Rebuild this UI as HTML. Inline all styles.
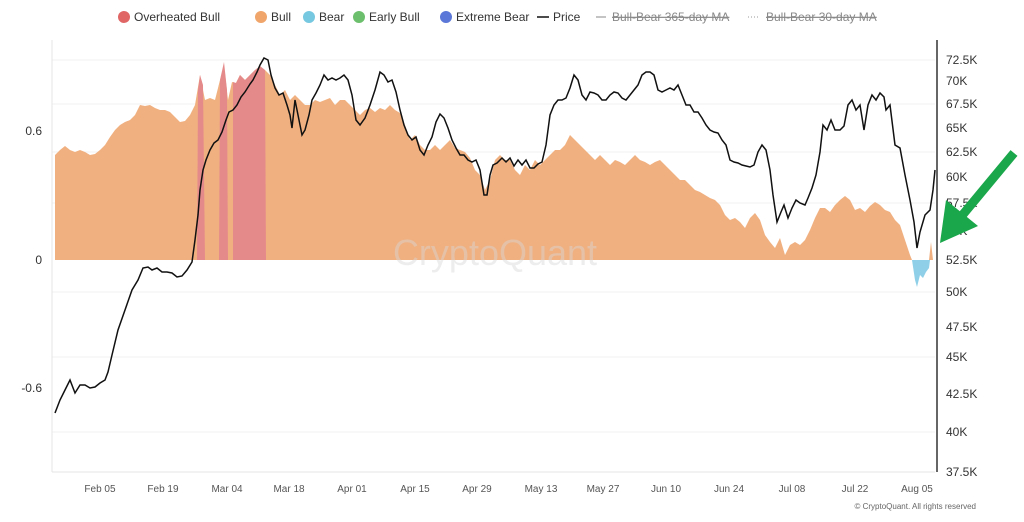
<!DOCTYPE html>
<html><head><meta charset="utf-8"><style>
body{margin:0;background:#fff;width:1024px;height:517px;overflow:hidden;font-family:"Liberation Sans",sans-serif}
</style></head><body>
<svg width="1024" height="517" xmlns="http://www.w3.org/2000/svg" font-family="Liberation Sans, sans-serif">
<g font-size="12" fill="#333">
<circle cx="124" cy="17" r="6" fill="#e06666"/><text x="134" y="21">Overheated Bull</text>
<circle cx="261" cy="17" r="6" fill="#f0a56a"/><text x="271" y="21">Bull</text>
<circle cx="309" cy="17" r="6" fill="#76c7e0"/><text x="319" y="21">Bear</text>
<circle cx="359" cy="17" r="6" fill="#6cbf6c"/><text x="369" y="21">Early Bull</text>
<circle cx="446" cy="17" r="6" fill="#5b78d8"/><text x="456" y="21">Extreme Bear</text>
<line x1="537" y1="17" x2="549" y2="17" stroke="#111" stroke-width="1.5"/><text x="553" y="21">Price</text>
<line x1="596" y1="17" x2="606" y2="17" stroke="#888" stroke-width="1"/><text x="612" y="21" fill="#888" text-decoration="line-through">Bull-Bear 365-day MA</text>
<line x1="748" y1="17" x2="760" y2="17" stroke="#999" stroke-dasharray="1,2"/><text x="766" y="21" fill="#888" text-decoration="line-through">Bull-Bear 30-day MA</text>
</g>
<g stroke="#f0f0f0" stroke-width="1">
<line x1="52" y1="60" x2="935" y2="60"/><line x1="52" y1="104" x2="935" y2="104"/><line x1="52" y1="152" x2="935" y2="152"/><line x1="52" y1="203" x2="935" y2="203"/><line x1="52" y1="292" x2="935" y2="292"/><line x1="52" y1="357" x2="935" y2="357"/><line x1="52" y1="432" x2="935" y2="432"/>
</g>
<line x1="52" y1="40" x2="52" y2="472" stroke="#e4e4e4"/>
<line x1="52" y1="472" x2="935" y2="472" stroke="#e4e4e4"/>
<line x1="937" y1="40" x2="937" y2="472" stroke="#333" stroke-width="1.5"/>
<polygon fill="#f0b080" points="55,260 55,155 60,150 65,146 70,150 75,152 80,150 85,152 90,155 95,154 100,150 105,145 110,137 115,130 120,125 125,122 130,120 135,115 140,105 145,106 150,105 155,108 160,110 165,110 170,112 175,117 180,122 185,121 190,115 195,105 200,75 205,100 210,98 215,100 220,80 224,65 228,100 232,82 236,83 240,75 245,80 250,75 255,70 260,68 265,70 270,75 275,85 280,95 285,90 290,100 295,95 300,100 305,105 310,105 315,100 320,102 325,100 330,98 335,105 340,100 345,100 350,105 355,110 360,115 365,110 370,108 375,112 380,108 385,110 390,105 395,110 400,113 405,125 410,140 415,135 420,145 425,150 430,150 435,145 440,150 445,145 450,140 455,148 460,150 465,152 470,158 475,170 480,175 485,190 490,180 495,160 500,155 505,160 510,160 515,170 520,175 525,165 530,170 535,160 540,165 545,160 550,155 555,150 560,150 565,145 570,135 575,140 580,145 585,150 590,155 595,160 600,155 605,160 610,165 615,160 620,162 625,165 630,160 635,155 640,160 645,162 650,165 655,162 660,160 665,165 670,170 675,175 680,180 685,180 690,185 695,190 700,192 705,195 710,198 715,200 720,205 725,215 730,220 735,218 740,222 745,228 750,218 755,213 760,220 765,235 770,242 775,248 780,238 785,255 790,245 795,242 800,245 805,240 810,230 815,218 820,208 825,208 830,212 835,205 840,200 845,196 850,200 855,210 860,208 865,212 870,206 875,202 880,205 885,210 890,212 895,220 900,225 905,240 910,255 912,260"/>
<polygon fill="#f0b080" points="929,260 931,242 933,260"/>
<polygon fill="#8fd0e8" points="912,260 915,280 917,287 920,275 923,278 926,272 929,268 930,260"/>
<polygon fill="#e58a8a" points="197,260 198,90 200,75 203,85 205,260"/>
<polygon fill="#e58a8a" points="219,260 220,80 224,62 227,90 228,260"/>
<polygon fill="#e58a8a" points="233,260 233,82 236,83 240,75 245,80 250,75 255,70 260,66 265,70 266,260"/>
<text x="495" y="265" font-size="36" fill="#d8d8d8" fill-opacity="0.45" text-anchor="middle">CryptoQuant</text>
<polyline fill="none" stroke="#111" stroke-width="1.5" points="55,413 60,400 65,390 70,380 75,393 80,385 85,385 90,388 95,387 100,383 105,380 108,372 112,355 118,330 125,310 132,290 138,280 143,268 148,267 152,270 157,268 162,272 167,272 172,273 177,277 182,276 187,270 192,262 195,240 198,215 200,190 203,170 206,160 210,150 214,143 218,140 222,132 226,120 229,112 233,110 237,105 241,97 245,92 250,84 253,80 257,72 260,65 264,58 268,60 271,75 275,88 279,95 283,93 287,105 290,115 292,128 295,100 298,115 302,135 305,130 309,115 312,100 316,93 320,85 324,75 328,80 332,78 336,80 340,78 344,75 348,80 352,95 356,120 360,125 365,118 370,105 375,90 380,72 384,75 388,82 392,80 396,92 400,110 404,125 408,135 412,140 416,137 420,150 424,155 428,145 432,137 436,122 440,114 444,118 448,128 452,140 456,148 460,155 464,155 468,160 472,162 476,160 480,170 484,195 487,195 490,175 493,165 497,163 502,158 506,162 510,158 514,166 518,160 522,165 526,160 530,168 534,168 538,164 542,162 546,145 550,115 554,105 558,100 562,100 566,98 570,88 574,75 578,80 582,95 586,100 590,92 594,93 598,95 602,100 606,100 610,95 614,92 618,93 622,98 626,100 630,95 634,90 638,85 642,75 646,72 650,72 654,75 658,90 662,92 666,90 670,88 674,90 678,85 682,95 686,105 690,105 694,112 698,112 702,118 706,125 710,130 714,132 718,133 722,140 726,145 730,160 734,162 738,163 742,165 746,166 750,167 754,165 758,152 762,145 766,150 770,170 773,195 777,222 781,212 784,205 788,218 792,208 796,200 800,203 805,205 808,198 812,188 816,175 820,152 823,125 827,130 831,120 835,130 840,130 844,126 848,105 852,100 856,110 860,105 864,130 868,105 872,95 876,100 880,93 884,97 886,110 890,105 895,145 900,148 905,175 910,200 914,222 917,248 920,232 925,215 930,210 933,190 935,170"/>
<g font-size="12" fill="#333" text-anchor="end">
<text x="42" y="135">0.6</text><text x="42" y="264">0</text><text x="42" y="392">-0.6</text>
</g>
<g font-size="12" fill="#333">
<text x="946" y="64">72.5K</text><text x="946" y="85">70K</text><text x="946" y="108">67.5K</text><text x="946" y="132">65K</text><text x="946" y="156">62.5K</text><text x="946" y="181">60K</text><text x="946" y="207">57.5K</text><text x="946" y="235">55K</text><text x="946" y="264">52.5K</text><text x="946" y="296">50K</text><text x="946" y="331">47.5K</text><text x="946" y="361">45K</text><text x="946" y="398">42.5K</text><text x="946" y="436">40K</text><text x="946" y="476">37.5K</text>
</g>
<g font-size="10" fill="#555" text-anchor="middle">
<text x="100" y="492">Feb 05</text><text x="163" y="492">Feb 19</text><text x="227" y="492">Mar 04</text><text x="289" y="492">Mar 18</text><text x="352" y="492">Apr 01</text><text x="415" y="492">Apr 15</text><text x="477" y="492">Apr 29</text><text x="541" y="492">May 13</text><text x="603" y="492">May 27</text><text x="666" y="492">Jun 10</text><text x="729" y="492">Jun 24</text><text x="792" y="492">Jul 08</text><text x="855" y="492">Jul 22</text><text x="917" y="492">Aug 05</text>
</g>
<text x="976" y="509" font-size="8" fill="#666" text-anchor="end">© CryptoQuant. All rights reserved</text>
<line x1="1014" y1="153" x2="960" y2="218" stroke="#1aa64a" stroke-width="9"/>
<polygon fill="#1aa64a" points="940,243 946,200 978,226"/>
</svg>
</body></html>
